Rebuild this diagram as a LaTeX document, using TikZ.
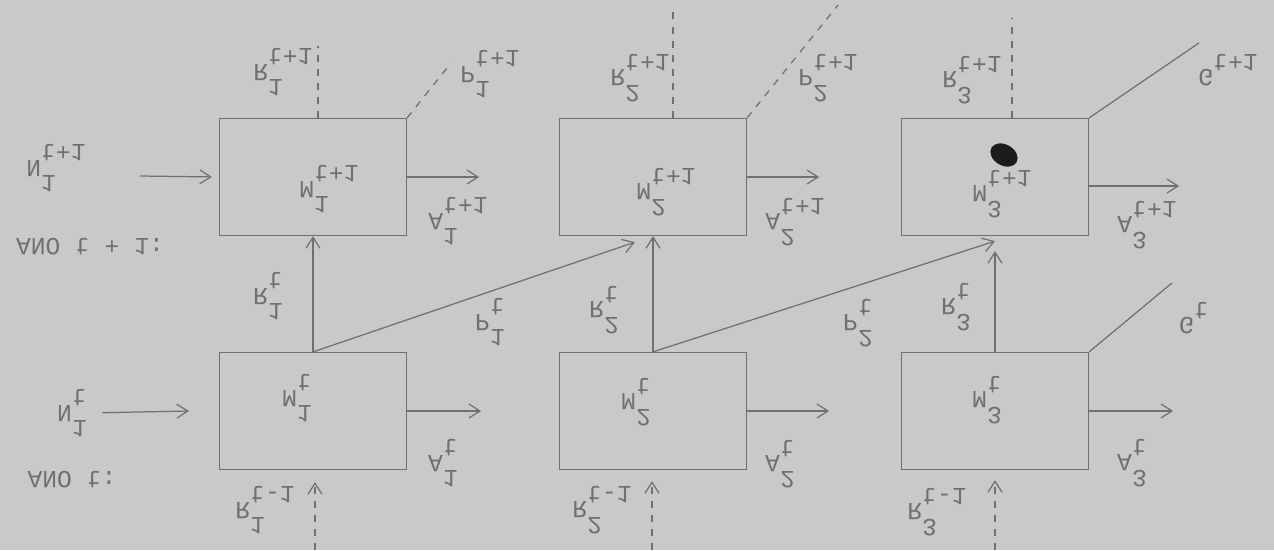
\documentclass[tikz,border=0pt]{standalone}
\usepackage{fontspec}
\usepackage{graphicx}
\setmainfont{Liberation Mono}
\usetikzlibrary{arrows.meta}
\definecolor{paper}{RGB}{201,201,201}
\definecolor{ink}{RGB}{112,112,112}
\definecolor{blot}{RGB}{28,28,28}
% the sheet is seen upside down: every typed text is flipped
\newcommand{\flip}[1]{\scalebox{1}[-1]{#1}}
% typed symbol: letter, raised index, lowered index
\newcommand{\tsym}[3]{\flip{#1\ooalign{\raisebox{0.62em}{#2}\cr\raisebox{-0.62em}{#3}\cr}}}
\begin{document}
\begin{tikzpicture}[x=0.2mm, y=-0.2mm, color=ink, line width=0.7pt,
  >={Straight Barb[length=2.2mm,width=2.8mm]},
  typed/.style={inner sep=0pt, text=ink, font=\fontsize{14}{16}\selectfont},
  stage/.style={draw=ink, minimum width=3.74cm, minimum height=2.34cm},
  offpage/.style={dash pattern=on 4pt off 4pt}]
\fill[paper] (0,0) rectangle (1274,550);
\useasboundingbox (0,0) rectangle (1274,550);

% year t+1
\node[stage] (mn1) at (313,177) {};
\node[stage] (mn2) at (653,177) {};
\node[stage] (mn3) at (995,177) {};
\node[typed] (mn1l) at (329,189) {\tsym{M}{1}{t+1}};
\node[typed] (mn2l) at (666,192) {\tsym{M}{2}{t+1}};
\node[typed] (mn3l) at (1002,194) {\tsym{M}{3}{t+1}};
% year t
\node[stage] (mt1) at (313,411) {};
\node[stage] (mt2) at (653,411) {};
\node[stage] (mt3) at (995,411) {};
\node[typed] (mt1l) at (297,398) {\tsym{M}{1}{t}};
\node[typed] (mt2l) at (636,402) {\tsym{M}{2}{t}};
\node[typed] (mt3l) at (987,400) {\tsym{M}{3}{t}};

\node[typed] (yn) at (90,247) {\flip{ANO t + 1:}};
\node[typed] (yt) at (72,480) {\flip{ANO t:}};

\fill[blot, rotate around={-30:(1004,155)}] (1004,155) ellipse [x radius=0.29cm, y radius=0.21cm];

% new entrants
\node[typed] (nn1) at (56,168) {\tsym{N}{1}{t+1}};
\node[typed] (nt1) at (72,413) {\tsym{N}{1}{t}};
\coordinate (nn1-a) at (140,176);
\draw[->, shorten >=0.14cm] (nn1-a) -- (mn1.west);
\draw[->, shorten <=0.3cm] (nt1.east) -- ([xshift=-0.6cm]mt1.west);

% dropouts
\draw[->] (mn1.east) -- ++(72,0);
\draw[->] (mn2.east) -- ++(72,0);
\draw[->] ([yshift=-0.18cm]mn3.east) -- ++(90,0);
\draw[->] (mt1.east) -- ++(74,0);
\draw[->] (mt2.east) -- ++(82,0);
\draw[->] (mt3.east) -- ++(84,0);
\node[typed] (an1) at (458,221) {\tsym{A}{1}{t+1}};
\node[typed] (an2) at (795,222) {\tsym{A}{2}{t+1}};
\node[typed] (an3) at (1147,225) {\tsym{A}{3}{t+1}};
\node[typed] (at1) at (443,463) {\tsym{A}{1}{t}};
\node[typed] (at2) at (780,464) {\tsym{A}{2}{t}};
\node[typed] (at3) at (1132,463) {\tsym{A}{3}{t}};

% repeaters and promoted, t to t+1
\draw[->] (mt1) -- (mn1);
\draw[->] (mt2) -- (mn2);
\draw[->, shorten >=0.3cm] (mt3) -- (mn3);
\draw[->] (mt1.north) -- ([xshift=-0.36cm,yshift=-0.12cm]mn2.south);
\draw[->] (mt2.north) -- ([yshift=-0.1cm]mn3.south);
\node[typed] (rt1) at (268,296) {\tsym{R}{1}{t}};
\node[typed] (rt2) at (604,310) {\tsym{R}{2}{t}};
\node[typed] (rt3) at (956,307) {\tsym{R}{3}{t}};
\node[typed] (pt1) at (490,322) {\tsym{P}{1}{t}};
\node[typed] (pt2) at (858,323) {\tsym{P}{2}{t}};

% out of year t+1
\draw[offpage] ([xshift=0.1cm]mn1.north) -- ++(0,-72);
\draw[offpage] ([xshift=0.4cm]mn2.north) -- ++(0,-110);
\draw[offpage] ([xshift=0.34cm]mn3.north) -- ++(0,-100);
\draw[offpage] (mn1.north east) -- ++(44,-55);
\draw[offpage] (mn2.north east) -- ++(91,-113);
\draw (mn3.north east) -- ++(110,-75);
\draw (mt3.north east) -- ++(83,-69);
\node[typed] (rn1) at (283,72) {\tsym{R}{1}{t+1}};
\node[typed] (pn1) at (490,74) {\tsym{P}{1}{t+1}};
\node[typed] (rn2) at (640,78) {\tsym{R}{2}{t+1}};
\node[typed] (pn2) at (828,78) {\tsym{P}{2}{t+1}};
\node[typed] (rn3) at (972,80) {\tsym{R}{3}{t+1}};
\node[typed] (gn) at (1228,70) {\tsym{G}{}{t+1}};
\node[typed] (gt) at (1194,318) {\tsym{G}{}{t}};

% repeaters from year t-1
\coordinate (rp1-a) at (315,550);
\coordinate (rp2-a) at (652,550);
\coordinate (rp3-a) at (995,550);
\draw[->, offpage, shorten >=0.24cm] (rp1-a) -- (rp1-a |- mt1.south);
\draw[->, offpage, shorten >=0.22cm] (rp2-a) -- (rp2-a |- mt2.south);
\draw[->, offpage, shorten >=0.2cm] (rp3-a) -- (rp3-a |- mt3.south);
\node[typed] (rp1) at (265,510) {\tsym{R}{1}{t-1}};
\node[typed] (rp2) at (602,510) {\tsym{R}{2}{t-1}};
\node[typed] (rp3) at (937,512) {\tsym{R}{3}{t-1}};
\end{tikzpicture}
\end{document}
